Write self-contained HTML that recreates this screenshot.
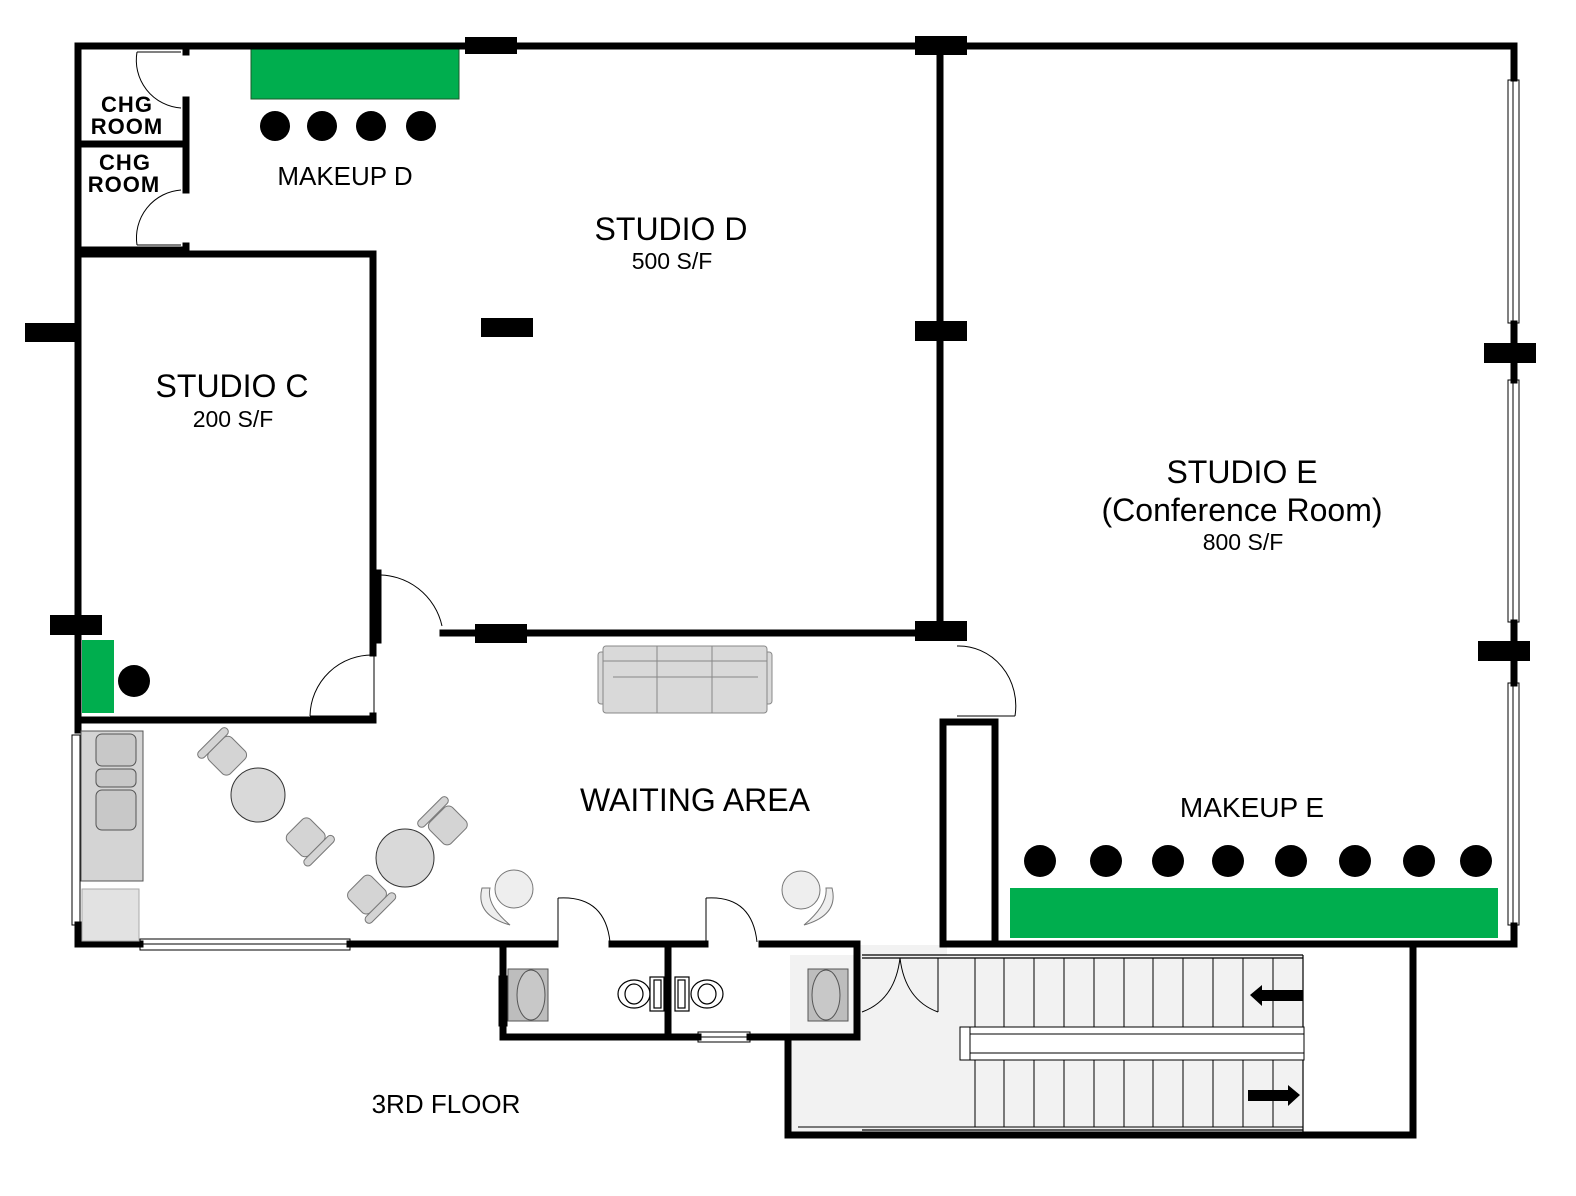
<!DOCTYPE html>
<html><head><meta charset="utf-8"><style>
html,body{margin:0;padding:0;background:#fff;}
svg{display:block;}
text{font-family:"Liberation Sans",sans-serif;fill:#000;}
</style></head><body>
<svg width="1576" height="1196" viewBox="0 0 1576 1196" xmlns="http://www.w3.org/2000/svg">
<rect width="1576" height="1196" fill="#fff"/>

<rect x="790" y="955" width="513" height="177" fill="#f2f2f2"/>
<rect x="857" y="945" width="90" height="92" fill="#f2f2f2"/>
<g stroke="#000" stroke-width="1.2">
<line x1="862" y1="955" x2="1303" y2="955"/>
<line x1="862" y1="958" x2="1303" y2="958"/>
<line x1="862" y1="1130" x2="1303" y2="1130"/>
<line x1="1303" y1="955" x2="1303" y2="1132"/>
</g>
<g stroke="#000" stroke-width="1">
<line x1="798" y1="1127" x2="1303" y2="1127"/>
<path d="M975 958V1031 M1004 958V1031 M1034 958V1031 M1064 958V1031 M1094 958V1031 M1124 958V1031 M1153 958V1031 M1183 958V1031 M1213 958V1031 M1243 958V1031 M1273 958V1031"/>
<path d="M975 1059V1127 M1004 1059V1127 M1034 1059V1127 M1064 1059V1127 M1094 1059V1127 M1124 1059V1127 M1153 1059V1127 M1183 1059V1127 M1213 1059V1127 M1243 1059V1127 M1273 1059V1127"/>
</g>
<g fill="#fff" stroke="#000" stroke-width="1">
<rect x="960" y="1027" width="344" height="7"/>
<rect x="960" y="1053" width="344" height="7"/>
<rect x="960" y="1027" width="10" height="33"/>
<rect x="970" y="1034" width="334" height="19"/>
</g>
<polygon points="1250,995 1262,985 1262,990 1303,990 1303,1001 1262,1001 1262,1006" fill="#000"/>
<polygon points="1300,1095 1288,1085 1288,1090 1248,1090 1248,1101 1288,1101 1288,1106" fill="#000"/>
<g fill="none" stroke="#000" stroke-width="1">
<path d="M862 1012 Q895 1000 900 958"/>
<path d="M938 1012 Q905 1000 900 958"/>
<line x1="938" y1="958" x2="938" y2="1012"/>
</g>

<rect x="251" y="49" width="208" height="50" fill="#00ae4e" stroke="#1a5a2a" stroke-width="1"/>
<rect x="82" y="640" width="32" height="73" fill="#00ae4e"/>
<rect x="1010" y="888" width="488" height="50" fill="#00ae4e"/>

<g fill="#000">
<circle cx="275" cy="126" r="15"/><circle cx="322" cy="126" r="15"/><circle cx="371" cy="126" r="15"/><circle cx="421" cy="126" r="15"/>
<circle cx="134" cy="681" r="16"/>
<circle cx="1040" cy="861" r="16"/><circle cx="1106" cy="861" r="16"/><circle cx="1168" cy="861" r="16"/><circle cx="1228" cy="861" r="16"/><circle cx="1291" cy="861" r="16"/><circle cx="1355" cy="861" r="16"/><circle cx="1419" cy="861" r="16"/><circle cx="1476" cy="861" r="16"/>
</g>

<g fill="#fff" stroke="#000" stroke-width="1">
<rect x="1508" y="80" width="11" height="243"/><line x1="1513" y1="80" x2="1513" y2="323"/>
<rect x="1508" y="380" width="11" height="242"/><line x1="1513" y1="380" x2="1513" y2="622"/>
<rect x="1508" y="683" width="11" height="242"/><line x1="1513" y1="683" x2="1513" y2="925"/>
<rect x="140" y="939" width="210" height="11"/><line x1="140" y1="944" x2="350" y2="944"/>
<rect x="72" y="735" width="8" height="190"/>
<rect x="698" y="1032" width="52" height="10"/><line x1="698" y1="1037" x2="750" y2="1037"/>
<rect x="499" y="976" width="8" height="50"/>
</g>

<g stroke="#000" stroke-width="7" fill="none" stroke-linecap="square">
<path d="M78 46H1514V78"/>
<path d="M1514 324V380 M1514 623V683 M1514 926V944"/>
<path d="M78 46V730 M78 925V944H140 M350 944H555 M612 944H705 M762 944H857V1037"/>
<path d="M943 944H1514"/>
<path d="M186 46V52 M186 100V190 M186 246V252 M78 144H186 M78 250H186"/>
<path d="M78 254H373V653 M373 716V720H78"/>
<path d="M378 573V640"/>
<path d="M443 633H940 M940 46V633 M940 633H962"/>
<path d="M943 722H995V944 M943 722V944"/>
<path d="M503 944V1037H698 M750 1037H857 M668 944V1037"/>
<path d="M788 1037V1135H1413V944"/>
</g>

<g fill="#000">
<rect x="465" y="37" width="52" height="17"/>
<rect x="915" y="36" width="52" height="19"/>
<rect x="25" y="323" width="50" height="19"/>
<rect x="481" y="318" width="52" height="19"/>
<rect x="915" y="321" width="52" height="20"/>
<rect x="50" y="615" width="52" height="20"/>
<rect x="475" y="624" width="52" height="19"/>
<rect x="915" y="621" width="52" height="20"/>
<rect x="1484" y="343" width="52" height="20"/>
<rect x="1478" y="641" width="52" height="20"/>
</g>

<g fill="none" stroke="#000" stroke-width="1">
<path d="M137 52 A48 48 0 0 0 181 108"/><line x1="137" y1="52" x2="181" y2="52"/>
<path d="M181 190 A48 48 0 0 0 137 245"/><line x1="137" y1="245" x2="181" y2="245"/>
<path d="M374 655 A62 62 0 0 0 310 716"/><line x1="310" y1="716" x2="372" y2="716"/><line x1="374" y1="655" x2="374" y2="716"/>
<path d="M376 575 A65 65 0 0 1 442 626"/><line x1="376" y1="575" x2="376" y2="626"/>
<path d="M957 646 A57 60 0 0 1 1015 716"/><line x1="957" y1="716" x2="1015" y2="716"/>
<path d="M558 898 Q605 895 610 942"/><line x1="558" y1="898" x2="558" y2="942"/>
<path d="M706 898 Q752 895 757 942"/><line x1="706" y1="898" x2="706" y2="942"/>
</g>

<g stroke="#555" stroke-width="1">
<rect x="81" y="731" width="62" height="150" fill="#d4d4d4"/>
<rect x="96" y="734" width="40" height="32" rx="6" fill="#c8c8c8"/>
<rect x="96" y="769" width="40" height="18" rx="5" fill="#c8c8c8"/>
<rect x="96" y="790" width="40" height="40" rx="6" fill="#c8c8c8"/>
<rect x="82" y="889" width="57" height="52" fill="#e2e2e2" stroke="#aaa"/>
</g>

<g fill="#d9d9d9" stroke="#888" stroke-width="1">
<rect x="598" y="652" width="174" height="52" rx="3"/>
<rect x="603" y="646" width="164" height="67" rx="3"/>
<line x1="657" y1="646" x2="657" y2="713"/><line x1="712" y1="646" x2="712" y2="713"/>
<line x1="603" y1="661" x2="767" y2="661"/>
<line x1="613" y1="677" x2="758" y2="677"/>
</g>

<g fill="#d9d9d9" stroke="#333" stroke-width="1">
<circle cx="258" cy="795" r="27"/>
<circle cx="405" cy="858" r="29"/>
</g>
<g fill="#d4d4d4" stroke="#777" stroke-width="1">
<g transform="rotate(-45 225 755)"><rect x="210" y="742" width="32" height="30" rx="6"/><rect x="205" y="734" width="40" height="8" rx="4"/></g>
<g transform="rotate(-45 305 838)"><rect x="290" y="823" width="32" height="30" rx="6"/><rect x="286" y="853" width="40" height="8" rx="4"/></g>
<g transform="rotate(-45 445 824)"><rect x="430" y="812" width="32" height="30" rx="6"/><rect x="425" y="803" width="40" height="8" rx="4"/></g>
<g transform="rotate(-45 367 896)"><rect x="352" y="880" width="32" height="30" rx="6"/><rect x="348" y="910" width="40" height="8" rx="4"/></g>
</g>
<g fill="#eee" stroke="#777" stroke-width="1">
<circle cx="514" cy="889" r="19"/>
<path d="M482 888 Q475 915 510 925 Q486 905 490 888Z"/>
<circle cx="801" cy="890" r="19"/>
<path d="M832 888 Q839 915 804 925 Q828 905 826 888Z"/>
</g>

<g stroke="#555" stroke-width="1">
<rect x="508" y="969" width="40" height="52" fill="#bdbdbd"/>
<ellipse cx="531" cy="995" rx="14" ry="25" fill="#c8c8c8"/>
<rect x="808" y="969" width="40" height="52" fill="#bdbdbd"/>
<ellipse cx="826" cy="995" rx="14" ry="25" fill="#c8c8c8"/>
</g>
<g fill="#fff" stroke="#000" stroke-width="1.2">
<ellipse cx="634" cy="994" rx="16" ry="14"/><ellipse cx="634" cy="994" rx="9" ry="10"/>
<rect x="650" y="977" width="14" height="34"/><rect x="654" y="980" width="7" height="28"/>
<ellipse cx="707" cy="994" rx="16" ry="14"/><ellipse cx="707" cy="994" rx="9" ry="10"/>
<rect x="675" y="977" width="14" height="34"/><rect x="678" y="980" width="7" height="28"/>
</g>

<g font-weight="bold" font-size="22" letter-spacing="1">
<text x="127" y="112" text-anchor="middle">CHG</text>
<text x="127" y="134" text-anchor="middle">ROOM</text>
<text x="125" y="170" text-anchor="middle">CHG</text>
<text x="124" y="192" text-anchor="middle">ROOM</text>
</g>
<text x="345" y="185" font-size="26" text-anchor="middle">MAKEUP D</text>
<text x="671" y="240" font-size="32" text-anchor="middle">STUDIO D</text>
<text x="672" y="269" font-size="23" text-anchor="middle">500 S/F</text>
<text x="232" y="397" font-size="32" text-anchor="middle">STUDIO C</text>
<text x="233" y="427" font-size="23" text-anchor="middle">200 S/F</text>
<text x="1242" y="483" font-size="32" text-anchor="middle">STUDIO E</text>
<text x="1242" y="521" font-size="32" text-anchor="middle">(Conference Room)</text>
<text x="1243" y="550" font-size="23" text-anchor="middle">800 S/F</text>
<text x="695" y="811" font-size="32" text-anchor="middle">WAITING AREA</text>
<text x="1252" y="817" font-size="28" text-anchor="middle">MAKEUP E</text>
<text x="446" y="1113" font-size="26" text-anchor="middle">3RD FLOOR</text>
</svg>
</body></html>
